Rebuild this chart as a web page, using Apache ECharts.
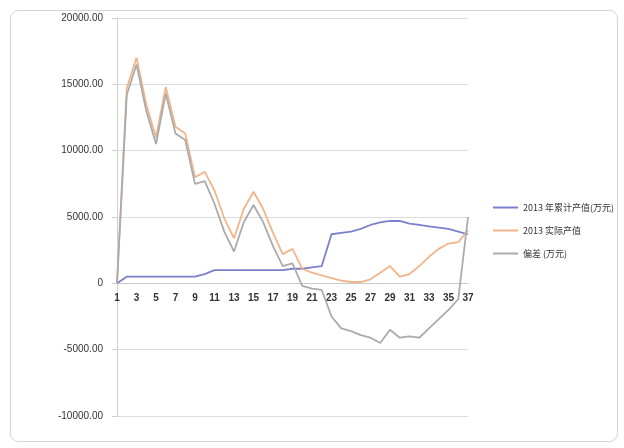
<!DOCTYPE html>
<html>
<head>
<meta charset="utf-8">
<script src="https://cdn.jsdelivr.net/npm/echarts@6/dist/echarts.min.js"></script>
<style>
html,body{margin:0;padding:0;background:#fff;}
#c{width:624px;height:448px;}
</style>
</head>
<body>
<div id="c"></div>
<script>
const categories = Array.from({length: 37}, (_, i) => String(i + 1));
const seriesNames = ['2013 年累计产值(万元)', '2013 实际产值', '偏差 (万元)'];
const blueValues = [0,500,500,500,500,500,500,500,500,700,1000,1000,1000,1000,1000,1000,1000,1000,1100,1100,1200,1300,3700,3800,3900,4100,4400,4600,4700,4700,4500,4400,4300,4200,4100,3900,3700];
const orangeValues = [0,14700,17000,13500,11000,14800,11800,11300,8000,8400,7000,4900,3400,5600,6900,5600,3800,2200,2600,1100,800,600,400,200,100,100,300,800,1300,500,700,1300,2000,2600,3000,3100,4000];
const grayValues = [0,14200,16500,13000,10500,14300,11300,10800,7500,7700,6000,3900,2400,4600,5900,4600,2800,1300,1500,-200,-400,-500,-2500,-3400,-3600,-3900,-4100,-4500,-3500,-4100,-4000,-4100,-3400,-2700,-2000,-1200,5000];
const yTicks = {min: -10000, max: 20000, interval: 5000};

const W = 624, H = 448, gTop = 18, gBottom = 32;
const plotH = H - gTop - gBottom;
const zeroOffset = -plotH * (0 - yTicks.min) / (yTicks.max - yTicks.min);

const chart = echarts.init(document.getElementById('c'));
chart.setOption({
  animation: false,
  graphic: [{
    type: 'rect',
    left: 8, top: 8,
    shape: {width: 607, height: 431, r: 8},
    style: {fill: 'none', stroke: '#d4d4d4', lineWidth: 1}
  }],
  grid: {left: 117, right: 156, top: gTop, bottom: gBottom},
  legend: {
    orient: 'vertical',
    left: 488, top: 198,
    itemGap: 14,
    icon: 'rect',
    itemWidth: 25, itemHeight: 2,
    textStyle: {fontSize: 9, color: '#333', fontFamily: 'Noto Sans CJK SC'},
    data: seriesNames
  },
  xAxis: {
    type: 'category',
    data: categories,
    boundaryGap: false,
    offset: zeroOffset,
    axisLine: {onZero: false, lineStyle: {color: '#c8c8c8'}},
    axisTick: {show: false},
    axisLabel: {interval: 1, fontSize: 10, color: '#333', margin: 10, fontWeight: 'bold'}
  },
  yAxis: {
    type: 'value',
    min: yTicks.min, max: yTicks.max, interval: yTicks.interval,
    axisLine: {show: true, lineStyle: {color: '#d0d0d0'}},
    axisTick: {show: true, length: 5, lineStyle: {color: '#d0d0d0'}},
    splitLine: {lineStyle: {color: '#dcdcdc'}},
    axisLabel: {fontSize: 10, color: '#333', margin: 14, formatter: v => v === 0 ? '0' : v.toFixed(2)}
  },
  series: [
    {name: seriesNames[0], type: 'line', data: blueValues, symbol: 'none',
     lineStyle: {color: '#7b80cc', width: 1.8}, itemStyle: {color: '#7b80cc'}},
    {name: seriesNames[1], type: 'line', data: orangeValues, symbol: 'none',
     lineStyle: {color: '#f2b48a', width: 1.8}, itemStyle: {color: '#f2b48a'}},
    {name: seriesNames[2], type: 'line', data: grayValues, symbol: 'none',
     lineStyle: {color: '#ababab', width: 1.8}, itemStyle: {color: '#ababab'}}
  ]
});
</script>
</body>
</html>
